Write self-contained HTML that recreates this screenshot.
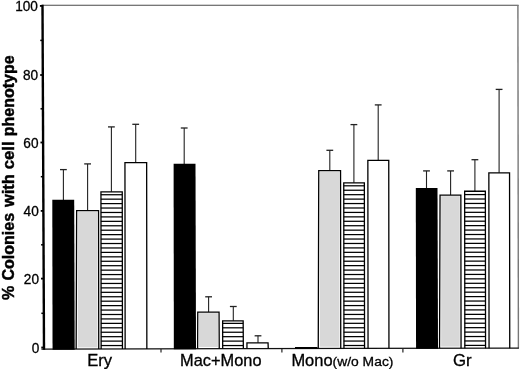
<!DOCTYPE html>
<html><head><meta charset="utf-8"><title>Chart</title>
<style>
html,body{margin:0;padding:0;background:#fff;}
svg{display:block;}
text{font-family:"Liberation Sans",Arial,Helvetica,sans-serif;fill:#000;}
.t{stroke:#000;stroke-width:0.3px;}
.b{stroke:#000;stroke-width:0.45px;}
</style></head>
<body>
<svg width="520" height="369" viewBox="0 0 520 369">
<rect x="0" y="0" width="520" height="369" fill="#fff"/>
<!-- frame -->
<line x1="42" y1="5.25" x2="518.6" y2="5.25" stroke="#4a4a4a" stroke-width="1.2"/>
<line x1="517.9" y1="5" x2="518.4" y2="348.6" stroke="#777" stroke-width="1.4"/>
<polyline points="41.4,349.2 150,348.95 230,348.55 355,348.4 518.8,348.2" fill="none" stroke="#111" stroke-width="1.25"/>
<line x1="42.5" y1="4.8" x2="44.0" y2="349.8" stroke="#000" stroke-width="2.4"/>
<line x1="41.29" y1="347.5" x2="43.59" y2="347.5" stroke="#000" stroke-width="1.8"/>
<text transform="translate(39.29,352.7) scale(0.96,1)" text-anchor="end" font-size="14.2" class="t">0</text>
<line x1="41.01" y1="278.6" x2="43.31" y2="278.6" stroke="#000" stroke-width="1.8"/>
<text transform="translate(39.01,283.8) scale(0.96,1)" text-anchor="end" font-size="14.2" class="t">20</text>
<line x1="40.74" y1="210.9" x2="43.04" y2="210.9" stroke="#000" stroke-width="1.8"/>
<text transform="translate(38.74,216.1) scale(0.96,1)" text-anchor="end" font-size="14.2" class="t">40</text>
<line x1="40.46" y1="142.5" x2="42.76" y2="142.5" stroke="#000" stroke-width="1.8"/>
<text transform="translate(38.46,147.7) scale(0.96,1)" text-anchor="end" font-size="14.2" class="t">60</text>
<line x1="40.18" y1="75" x2="42.48" y2="75" stroke="#000" stroke-width="1.8"/>
<text transform="translate(38.18,80.2) scale(0.96,1)" text-anchor="end" font-size="14.2" class="t">80</text>
<line x1="39.90" y1="5.9" x2="42.20" y2="5.9" stroke="#000" stroke-width="1.8"/>
<text transform="translate(37.90,11.1) scale(0.96,1)" text-anchor="end" font-size="14.2" class="t">100</text>
<line x1="41.35" y1="313.3" x2="43.45" y2="313.3" stroke="#000" stroke-width="1.5"/>
<line x1="41.07" y1="244.8" x2="43.17" y2="244.8" stroke="#000" stroke-width="1.5"/>
<line x1="40.80" y1="176.7" x2="42.90" y2="176.7" stroke="#000" stroke-width="1.5"/>
<line x1="40.52" y1="108.8" x2="42.62" y2="108.8" stroke="#000" stroke-width="1.5"/>
<line x1="40.24" y1="40.4" x2="42.34" y2="40.4" stroke="#000" stroke-width="1.5"/>
<!-- category ticks -->
<line x1="161" y1="349" x2="161" y2="352.6" stroke="#222" stroke-width="1.2"/>
<line x1="281.9" y1="349" x2="281.9" y2="352.6" stroke="#222" stroke-width="1.2"/>
<line x1="402.9" y1="349" x2="402.9" y2="352.6" stroke="#222" stroke-width="1.2"/>
<line x1="63.4" y1="169.6" x2="63.4" y2="200.2" stroke="#222" stroke-width="1.1"/>
<line x1="60.0" y1="169.6" x2="66.8" y2="169.6" stroke="#222" stroke-width="1.3"/>
<path d="M52.3,199.7 H74.2 L74.70,349.65 H52.55 Z" fill="#000"/>
<line x1="87.6" y1="163.9" x2="87.6" y2="210.5" stroke="#222" stroke-width="1.1"/>
<line x1="84.19999999999999" y1="163.9" x2="91.0" y2="163.9" stroke="#222" stroke-width="1.3"/>
<rect x="77.75" y="211.75" width="19.70" height="135.64" fill="#d8d8d8"/>
<path d="M76.15,349.09 L76.65,210.65 H98.55 L98.75,349.09" fill="none" stroke="#000" stroke-width="1.3"/>
<line x1="111.4" y1="126.9" x2="111.4" y2="191.8" stroke="#222" stroke-width="1.1"/>
<line x1="108.0" y1="126.9" x2="114.80000000000001" y2="126.9" stroke="#222" stroke-width="1.3"/>
<line x1="100.90" y1="345.55" x2="122.30" y2="345.55" stroke="#000" stroke-width="1.25"/>
<line x1="100.90" y1="341.11" x2="122.30" y2="341.11" stroke="#000" stroke-width="1.25"/>
<line x1="100.90" y1="336.68" x2="122.30" y2="336.68" stroke="#000" stroke-width="1.25"/>
<line x1="100.90" y1="332.24" x2="122.30" y2="332.24" stroke="#000" stroke-width="1.25"/>
<line x1="100.90" y1="327.81" x2="122.30" y2="327.81" stroke="#000" stroke-width="1.25"/>
<line x1="100.90" y1="323.37" x2="122.30" y2="323.37" stroke="#000" stroke-width="1.25"/>
<line x1="100.90" y1="318.93" x2="122.30" y2="318.93" stroke="#000" stroke-width="1.25"/>
<line x1="100.90" y1="314.50" x2="122.30" y2="314.50" stroke="#000" stroke-width="1.25"/>
<line x1="100.90" y1="310.06" x2="122.30" y2="310.06" stroke="#000" stroke-width="1.25"/>
<line x1="100.90" y1="305.63" x2="122.30" y2="305.63" stroke="#000" stroke-width="1.25"/>
<line x1="100.90" y1="301.19" x2="122.30" y2="301.19" stroke="#000" stroke-width="1.25"/>
<line x1="100.90" y1="296.75" x2="122.30" y2="296.75" stroke="#000" stroke-width="1.25"/>
<line x1="100.90" y1="292.32" x2="122.30" y2="292.32" stroke="#000" stroke-width="1.25"/>
<line x1="100.90" y1="287.88" x2="122.30" y2="287.88" stroke="#000" stroke-width="1.25"/>
<line x1="100.90" y1="283.45" x2="122.30" y2="283.45" stroke="#000" stroke-width="1.25"/>
<line x1="100.90" y1="279.01" x2="122.30" y2="279.01" stroke="#000" stroke-width="1.25"/>
<line x1="100.90" y1="274.57" x2="122.30" y2="274.57" stroke="#000" stroke-width="1.25"/>
<line x1="100.90" y1="270.14" x2="122.30" y2="270.14" stroke="#000" stroke-width="1.25"/>
<line x1="100.90" y1="265.70" x2="122.30" y2="265.70" stroke="#000" stroke-width="1.25"/>
<line x1="100.90" y1="261.27" x2="122.30" y2="261.27" stroke="#000" stroke-width="1.25"/>
<line x1="100.90" y1="256.83" x2="122.30" y2="256.83" stroke="#000" stroke-width="1.25"/>
<line x1="100.90" y1="252.39" x2="122.30" y2="252.39" stroke="#000" stroke-width="1.25"/>
<line x1="100.90" y1="247.96" x2="122.30" y2="247.96" stroke="#000" stroke-width="1.25"/>
<line x1="100.90" y1="243.52" x2="122.30" y2="243.52" stroke="#000" stroke-width="1.25"/>
<line x1="100.90" y1="239.09" x2="122.30" y2="239.09" stroke="#000" stroke-width="1.25"/>
<line x1="100.90" y1="234.65" x2="122.30" y2="234.65" stroke="#000" stroke-width="1.25"/>
<line x1="100.90" y1="230.21" x2="122.30" y2="230.21" stroke="#000" stroke-width="1.25"/>
<line x1="100.90" y1="225.78" x2="122.30" y2="225.78" stroke="#000" stroke-width="1.25"/>
<line x1="100.90" y1="221.34" x2="122.30" y2="221.34" stroke="#000" stroke-width="1.25"/>
<line x1="100.90" y1="216.91" x2="122.30" y2="216.91" stroke="#000" stroke-width="1.25"/>
<line x1="100.90" y1="212.47" x2="122.30" y2="212.47" stroke="#000" stroke-width="1.25"/>
<line x1="100.90" y1="208.03" x2="122.30" y2="208.03" stroke="#000" stroke-width="1.25"/>
<line x1="100.90" y1="203.60" x2="122.30" y2="203.60" stroke="#000" stroke-width="1.25"/>
<line x1="100.90" y1="199.16" x2="122.30" y2="199.16" stroke="#000" stroke-width="1.25"/>
<line x1="100.90" y1="194.73" x2="122.30" y2="194.73" stroke="#000" stroke-width="1.25"/>
<path d="M101.15,349.04 L100.95,191.95 H122.25 L122.45,349.04" fill="none" stroke="#000" stroke-width="1.3"/>
<line x1="135.7" y1="124.3" x2="135.7" y2="162.5" stroke="#222" stroke-width="1.1"/>
<line x1="132.29999999999998" y1="124.3" x2="139.1" y2="124.3" stroke="#222" stroke-width="1.3"/>
<path d="M125.15,348.98 L124.95,162.65 H146.65 L146.85,348.98" fill="none" stroke="#000" stroke-width="1.3"/>
<line x1="184.2" y1="128.0" x2="184.2" y2="164.3" stroke="#222" stroke-width="1.1"/>
<line x1="180.79999999999998" y1="128.0" x2="187.6" y2="128.0" stroke="#222" stroke-width="1.3"/>
<path d="M173.6,163.8 H195.5 L196.00,349.28 H173.85 Z" fill="#000"/>
<line x1="208.6" y1="296.8" x2="208.6" y2="311.9" stroke="#222" stroke-width="1.1"/>
<line x1="205.2" y1="296.8" x2="212.0" y2="296.8" stroke="#222" stroke-width="1.3"/>
<rect x="198.85" y="313.15" width="19.10" height="33.81" fill="#d8d8d8"/>
<path d="M197.62,348.66 L197.75,312.05 H219.05 L219.25,348.66" fill="none" stroke="#000" stroke-width="1.3"/>
<line x1="233.3" y1="306.5" x2="233.3" y2="320.8" stroke="#222" stroke-width="1.1"/>
<line x1="229.9" y1="306.5" x2="236.70000000000002" y2="306.5" stroke="#222" stroke-width="1.3"/>
<line x1="222.60" y1="345.55" x2="243.20" y2="345.55" stroke="#000" stroke-width="1.25"/>
<line x1="222.60" y1="341.11" x2="243.20" y2="341.11" stroke="#000" stroke-width="1.25"/>
<line x1="222.60" y1="336.68" x2="243.20" y2="336.68" stroke="#000" stroke-width="1.25"/>
<line x1="222.60" y1="332.24" x2="243.20" y2="332.24" stroke="#000" stroke-width="1.25"/>
<line x1="222.60" y1="327.81" x2="243.20" y2="327.81" stroke="#000" stroke-width="1.25"/>
<line x1="222.60" y1="323.37" x2="243.20" y2="323.37" stroke="#000" stroke-width="1.25"/>
<path d="M222.69,348.55 L222.65,320.95 H243.15 L243.35,348.55" fill="none" stroke="#000" stroke-width="1.3"/>
<line x1="258.0" y1="335.8" x2="258.0" y2="342.8" stroke="#222" stroke-width="1.1"/>
<line x1="254.6" y1="335.8" x2="261.4" y2="335.8" stroke="#222" stroke-width="1.3"/>
<path d="M246.96,348.52 L246.95,342.95 H268.05 L268.25,348.52" fill="none" stroke="#000" stroke-width="1.3"/>
<path d="M295.0,347.0 H317.5 L317.51,348.96 H295.00 Z" fill="#000"/>
<line x1="329.8" y1="150.3" x2="329.8" y2="170.5" stroke="#222" stroke-width="1.1"/>
<line x1="326.40000000000003" y1="150.3" x2="333.2" y2="150.3" stroke="#222" stroke-width="1.3"/>
<rect x="319.85" y="171.75" width="19.60" height="174.98" fill="#d8d8d8"/>
<path d="M318.25,348.43 L318.75,170.65 H340.55 L340.75,348.43" fill="none" stroke="#000" stroke-width="1.3"/>
<line x1="353.9" y1="124.6" x2="353.9" y2="182.8" stroke="#222" stroke-width="1.1"/>
<line x1="350.5" y1="124.6" x2="357.29999999999995" y2="124.6" stroke="#222" stroke-width="1.3"/>
<line x1="343.70" y1="345.50" x2="364.40" y2="345.50" stroke="#000" stroke-width="1.25"/>
<line x1="343.70" y1="341.06" x2="364.40" y2="341.06" stroke="#000" stroke-width="1.25"/>
<line x1="343.70" y1="336.63" x2="364.40" y2="336.63" stroke="#000" stroke-width="1.25"/>
<line x1="343.70" y1="332.19" x2="364.40" y2="332.19" stroke="#000" stroke-width="1.25"/>
<line x1="343.70" y1="327.76" x2="364.40" y2="327.76" stroke="#000" stroke-width="1.25"/>
<line x1="343.70" y1="323.32" x2="364.40" y2="323.32" stroke="#000" stroke-width="1.25"/>
<line x1="343.70" y1="318.88" x2="364.40" y2="318.88" stroke="#000" stroke-width="1.25"/>
<line x1="343.70" y1="314.45" x2="364.40" y2="314.45" stroke="#000" stroke-width="1.25"/>
<line x1="343.70" y1="310.01" x2="364.40" y2="310.01" stroke="#000" stroke-width="1.25"/>
<line x1="343.70" y1="305.58" x2="364.40" y2="305.58" stroke="#000" stroke-width="1.25"/>
<line x1="343.70" y1="301.14" x2="364.40" y2="301.14" stroke="#000" stroke-width="1.25"/>
<line x1="343.70" y1="296.70" x2="364.40" y2="296.70" stroke="#000" stroke-width="1.25"/>
<line x1="343.70" y1="292.27" x2="364.40" y2="292.27" stroke="#000" stroke-width="1.25"/>
<line x1="343.70" y1="287.83" x2="364.40" y2="287.83" stroke="#000" stroke-width="1.25"/>
<line x1="343.70" y1="283.40" x2="364.40" y2="283.40" stroke="#000" stroke-width="1.25"/>
<line x1="343.70" y1="278.96" x2="364.40" y2="278.96" stroke="#000" stroke-width="1.25"/>
<line x1="343.70" y1="274.52" x2="364.40" y2="274.52" stroke="#000" stroke-width="1.25"/>
<line x1="343.70" y1="270.09" x2="364.40" y2="270.09" stroke="#000" stroke-width="1.25"/>
<line x1="343.70" y1="265.65" x2="364.40" y2="265.65" stroke="#000" stroke-width="1.25"/>
<line x1="343.70" y1="261.22" x2="364.40" y2="261.22" stroke="#000" stroke-width="1.25"/>
<line x1="343.70" y1="256.78" x2="364.40" y2="256.78" stroke="#000" stroke-width="1.25"/>
<line x1="343.70" y1="252.34" x2="364.40" y2="252.34" stroke="#000" stroke-width="1.25"/>
<line x1="343.70" y1="247.91" x2="364.40" y2="247.91" stroke="#000" stroke-width="1.25"/>
<line x1="343.70" y1="243.47" x2="364.40" y2="243.47" stroke="#000" stroke-width="1.25"/>
<line x1="343.70" y1="239.04" x2="364.40" y2="239.04" stroke="#000" stroke-width="1.25"/>
<line x1="343.70" y1="234.60" x2="364.40" y2="234.60" stroke="#000" stroke-width="1.25"/>
<line x1="343.70" y1="230.16" x2="364.40" y2="230.16" stroke="#000" stroke-width="1.25"/>
<line x1="343.70" y1="225.73" x2="364.40" y2="225.73" stroke="#000" stroke-width="1.25"/>
<line x1="343.70" y1="221.29" x2="364.40" y2="221.29" stroke="#000" stroke-width="1.25"/>
<line x1="343.70" y1="216.86" x2="364.40" y2="216.86" stroke="#000" stroke-width="1.25"/>
<line x1="343.70" y1="212.42" x2="364.40" y2="212.42" stroke="#000" stroke-width="1.25"/>
<line x1="343.70" y1="207.98" x2="364.40" y2="207.98" stroke="#000" stroke-width="1.25"/>
<line x1="343.70" y1="203.55" x2="364.40" y2="203.55" stroke="#000" stroke-width="1.25"/>
<line x1="343.70" y1="199.11" x2="364.40" y2="199.11" stroke="#000" stroke-width="1.25"/>
<line x1="343.70" y1="194.68" x2="364.40" y2="194.68" stroke="#000" stroke-width="1.25"/>
<line x1="343.70" y1="190.24" x2="364.40" y2="190.24" stroke="#000" stroke-width="1.25"/>
<line x1="343.70" y1="185.80" x2="364.40" y2="185.80" stroke="#000" stroke-width="1.25"/>
<path d="M343.95,348.40 L343.75,182.95 H364.35 L364.55,348.40" fill="none" stroke="#000" stroke-width="1.3"/>
<line x1="378.2" y1="104.9" x2="378.2" y2="160.3" stroke="#222" stroke-width="1.1"/>
<line x1="374.8" y1="104.9" x2="381.59999999999997" y2="104.9" stroke="#222" stroke-width="1.3"/>
<path d="M368.05,348.37 L367.85,160.45 H388.75 L388.95,348.37" fill="none" stroke="#000" stroke-width="1.3"/>
<line x1="426.5" y1="170.9" x2="426.5" y2="188.6" stroke="#222" stroke-width="1.1"/>
<line x1="423.1" y1="170.9" x2="429.9" y2="170.9" stroke="#222" stroke-width="1.3"/>
<path d="M415.8,188.1 H437.5 L438.00,348.81 H416.05 Z" fill="#000"/>
<line x1="450.6" y1="170.9" x2="450.6" y2="194.9" stroke="#222" stroke-width="1.1"/>
<line x1="447.20000000000005" y1="170.9" x2="454.0" y2="170.9" stroke="#222" stroke-width="1.3"/>
<rect x="441.15" y="196.15" width="18.60" height="150.43" fill="#d8d8d8"/>
<path d="M439.55,348.28 L440.05,195.05 H460.85 L461.05,348.28" fill="none" stroke="#000" stroke-width="1.3"/>
<line x1="474.9" y1="159.7" x2="474.9" y2="191.1" stroke="#222" stroke-width="1.1"/>
<line x1="471.5" y1="159.7" x2="478.29999999999995" y2="159.7" stroke="#222" stroke-width="1.3"/>
<line x1="464.60" y1="345.40" x2="485.40" y2="345.40" stroke="#000" stroke-width="1.25"/>
<line x1="464.60" y1="340.96" x2="485.40" y2="340.96" stroke="#000" stroke-width="1.25"/>
<line x1="464.60" y1="336.53" x2="485.40" y2="336.53" stroke="#000" stroke-width="1.25"/>
<line x1="464.60" y1="332.09" x2="485.40" y2="332.09" stroke="#000" stroke-width="1.25"/>
<line x1="464.60" y1="327.66" x2="485.40" y2="327.66" stroke="#000" stroke-width="1.25"/>
<line x1="464.60" y1="323.22" x2="485.40" y2="323.22" stroke="#000" stroke-width="1.25"/>
<line x1="464.60" y1="318.78" x2="485.40" y2="318.78" stroke="#000" stroke-width="1.25"/>
<line x1="464.60" y1="314.35" x2="485.40" y2="314.35" stroke="#000" stroke-width="1.25"/>
<line x1="464.60" y1="309.91" x2="485.40" y2="309.91" stroke="#000" stroke-width="1.25"/>
<line x1="464.60" y1="305.48" x2="485.40" y2="305.48" stroke="#000" stroke-width="1.25"/>
<line x1="464.60" y1="301.04" x2="485.40" y2="301.04" stroke="#000" stroke-width="1.25"/>
<line x1="464.60" y1="296.60" x2="485.40" y2="296.60" stroke="#000" stroke-width="1.25"/>
<line x1="464.60" y1="292.17" x2="485.40" y2="292.17" stroke="#000" stroke-width="1.25"/>
<line x1="464.60" y1="287.73" x2="485.40" y2="287.73" stroke="#000" stroke-width="1.25"/>
<line x1="464.60" y1="283.30" x2="485.40" y2="283.30" stroke="#000" stroke-width="1.25"/>
<line x1="464.60" y1="278.86" x2="485.40" y2="278.86" stroke="#000" stroke-width="1.25"/>
<line x1="464.60" y1="274.42" x2="485.40" y2="274.42" stroke="#000" stroke-width="1.25"/>
<line x1="464.60" y1="269.99" x2="485.40" y2="269.99" stroke="#000" stroke-width="1.25"/>
<line x1="464.60" y1="265.55" x2="485.40" y2="265.55" stroke="#000" stroke-width="1.25"/>
<line x1="464.60" y1="261.12" x2="485.40" y2="261.12" stroke="#000" stroke-width="1.25"/>
<line x1="464.60" y1="256.68" x2="485.40" y2="256.68" stroke="#000" stroke-width="1.25"/>
<line x1="464.60" y1="252.24" x2="485.40" y2="252.24" stroke="#000" stroke-width="1.25"/>
<line x1="464.60" y1="247.81" x2="485.40" y2="247.81" stroke="#000" stroke-width="1.25"/>
<line x1="464.60" y1="243.37" x2="485.40" y2="243.37" stroke="#000" stroke-width="1.25"/>
<line x1="464.60" y1="238.94" x2="485.40" y2="238.94" stroke="#000" stroke-width="1.25"/>
<line x1="464.60" y1="234.50" x2="485.40" y2="234.50" stroke="#000" stroke-width="1.25"/>
<line x1="464.60" y1="230.06" x2="485.40" y2="230.06" stroke="#000" stroke-width="1.25"/>
<line x1="464.60" y1="225.63" x2="485.40" y2="225.63" stroke="#000" stroke-width="1.25"/>
<line x1="464.60" y1="221.19" x2="485.40" y2="221.19" stroke="#000" stroke-width="1.25"/>
<line x1="464.60" y1="216.76" x2="485.40" y2="216.76" stroke="#000" stroke-width="1.25"/>
<line x1="464.60" y1="212.32" x2="485.40" y2="212.32" stroke="#000" stroke-width="1.25"/>
<line x1="464.60" y1="207.88" x2="485.40" y2="207.88" stroke="#000" stroke-width="1.25"/>
<line x1="464.60" y1="203.45" x2="485.40" y2="203.45" stroke="#000" stroke-width="1.25"/>
<line x1="464.60" y1="199.01" x2="485.40" y2="199.01" stroke="#000" stroke-width="1.25"/>
<line x1="464.60" y1="194.58" x2="485.40" y2="194.58" stroke="#000" stroke-width="1.25"/>
<path d="M464.85,348.25 L464.65,191.25 H485.35 L485.55,348.25" fill="none" stroke="#000" stroke-width="1.3"/>
<line x1="499.1" y1="89.4" x2="499.1" y2="172.7" stroke="#222" stroke-width="1.1"/>
<line x1="495.70000000000005" y1="89.4" x2="502.5" y2="89.4" stroke="#222" stroke-width="1.3"/>
<path d="M489.05,348.21 L488.85,172.85 H509.55 L509.75,348.21" fill="none" stroke="#000" stroke-width="1.3"/>
<!-- labels -->
<text transform="translate(87.2,366.3) scale(1.048,1)" font-size="15.8" class="t">Ery</text>
<text transform="translate(180.1,365.9) scale(1.037,1)" font-size="15.8" class="t">Mac+Mono</text>
<text transform="translate(291.4,365.7) scale(1.043,1)" font-size="15.8" class="t">Mono<tspan font-size="13.3">(w/o Mac)</tspan></text>
<text transform="translate(453.0,365.5) scale(1.063,1)" font-size="15.8" class="t">Gr</text>
<g transform="translate(14.1,0) rotate(-90)" font-size="15.7" font-weight="bold" class="b">
<text transform="translate(-299.90,0) scale(1.0200,1)">%</text>
<text transform="translate(-280.50,0) scale(1.0200,1)">Colonies</text>
<text transform="translate(-207.00,0) scale(1.0455,1)">with</text>
<text transform="translate(-169.30,0) scale(1.0659,1)">cell</text>
<text transform="translate(-136.30,0) scale(1.0200,1)">phenotype</text>
</g>
</svg>
</body></html>
